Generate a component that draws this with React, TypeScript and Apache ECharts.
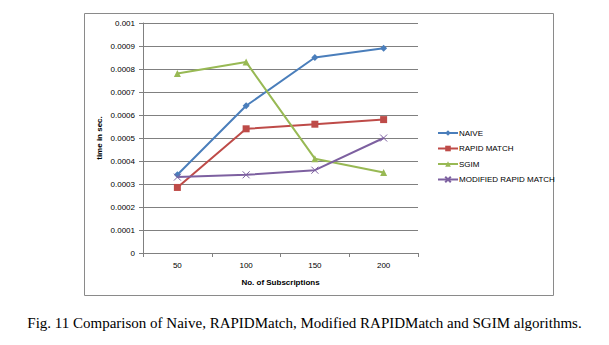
import React, { useEffect, useRef } from "react";
import * as echarts from "echarts";

const categories = ["50", "100", "150", "200"];
const naive = [0.00034, 0.00064, 0.00085, 0.00089];
const rapidMatch = [0.000285, 0.00054, 0.00056, 0.00058];
const sgim = [0.00078, 0.00083, 0.00041, 0.00035];
const modifiedRapid = [0.00033, 0.00034, 0.00036, 0.0005];
const seriesNames = ["NAIVE", "RAPID MATCH", "SGIM", "MODIFIED RAPID MATCH"];
const caption = "Fig. 11 Comparison of Naive, RAPIDMatch, Modified RAPIDMatch and SGIM algorithms.";

export default function App() {
  const ref = useRef<HTMLDivElement>(null);
  useEffect(() => {
    if (!ref.current) return;
    const chart = echarts.init(ref.current, undefined, { renderer: "svg" });
    const font = "Liberation Sans, Arial, sans-serif";
    const mk = (name: string, data: number[], color: string, symbol: string, size: number, extra: any = {}) => ({
      name,
      type: "line",
      data,
      symbol,
      symbolSize: size,
      lineStyle: { color, width: 2 },
      itemStyle: { color, ...extra },
    });
    chart.setOption({
      animation: false,
      textStyle: { fontFamily: font },
      graphic: [
        {
          type: "rect",
          shape: { x: 84.5, y: 13.5, width: 469, height: 282 },
          style: { fill: "none", stroke: "#8a8a8a", lineWidth: 1 },
          silent: true,
        },
        {
          type: "text",
          left: "center",
          top: 315,
          style: {
            text: caption,
            fontFamily: "Liberation Serif, Times New Roman, serif",
            fontSize: 15,
            fill: "#000",
          },
        },
      ],
      grid: { left: 143, top: 23, width: 275, height: 230 },
      legend: {
        orient: "vertical",
        left: 432,
        top: 124,
        itemWidth: 20,
        itemHeight: 7,
        itemGap: 7.5,
        textStyle: { fontSize: 8, color: "#000", fontFamily: font, padding: [0, 0, 0, -4] },
        data: seriesNames,
      },
      xAxis: {
        type: "category",
        data: categories,
        boundaryGap: true,
        name: "No. of Subscriptions",
        nameLocation: "middle",
        nameGap: 25,
        nameTextStyle: { fontSize: 8, fontWeight: "bold", color: "#000" },
        axisLine: { lineStyle: { color: "#808080" } },
        axisTick: { show: true, length: 4, lineStyle: { color: "#808080" } },
        axisLabel: { fontSize: 8, color: "#000", margin: 8 },
      },
      yAxis: {
        type: "value",
        min: 0,
        max: 0.001,
        interval: 0.0001,
        name: "time in sec.",
        nameLocation: "middle",
        nameGap: 40,
        nameTextStyle: { fontSize: 8, fontWeight: "bold", color: "#000" },
        axisLine: { show: true, lineStyle: { color: "#808080" } },
        axisTick: { show: true, length: 4, lineStyle: { color: "#808080" } },
        axisLabel: {
          fontSize: 8,
          color: "#000",
          margin: 8,
          formatter: (v: number) => (v === 0 ? "0" : String(parseFloat(v.toFixed(4)))),
        },
        splitLine: { lineStyle: { color: "#808080", width: 1 } },
      },
      series: [
        mk(seriesNames[0], naive, "#4A7EBB", "diamond", 7),
        mk(seriesNames[1], rapidMatch, "#BE4B48", "rect", 7),
        mk(seriesNames[2], sgim, "#98B954", "triangle", 7),
        mk(seriesNames[3], modifiedRapid, "#7D60A0", "path://M0,0L10,10M10,0L0,10", 7, {
          borderColor: "#7D60A0",
          borderWidth: 1,
        }),
      ],
    });
    return () => chart.dispose();
  }, []);
  return (
    <div
      ref={ref}
      style={{ position: "fixed", left: 0, top: 0, width: 609, height: 345, background: "#fff" }}
    />
  );
}
